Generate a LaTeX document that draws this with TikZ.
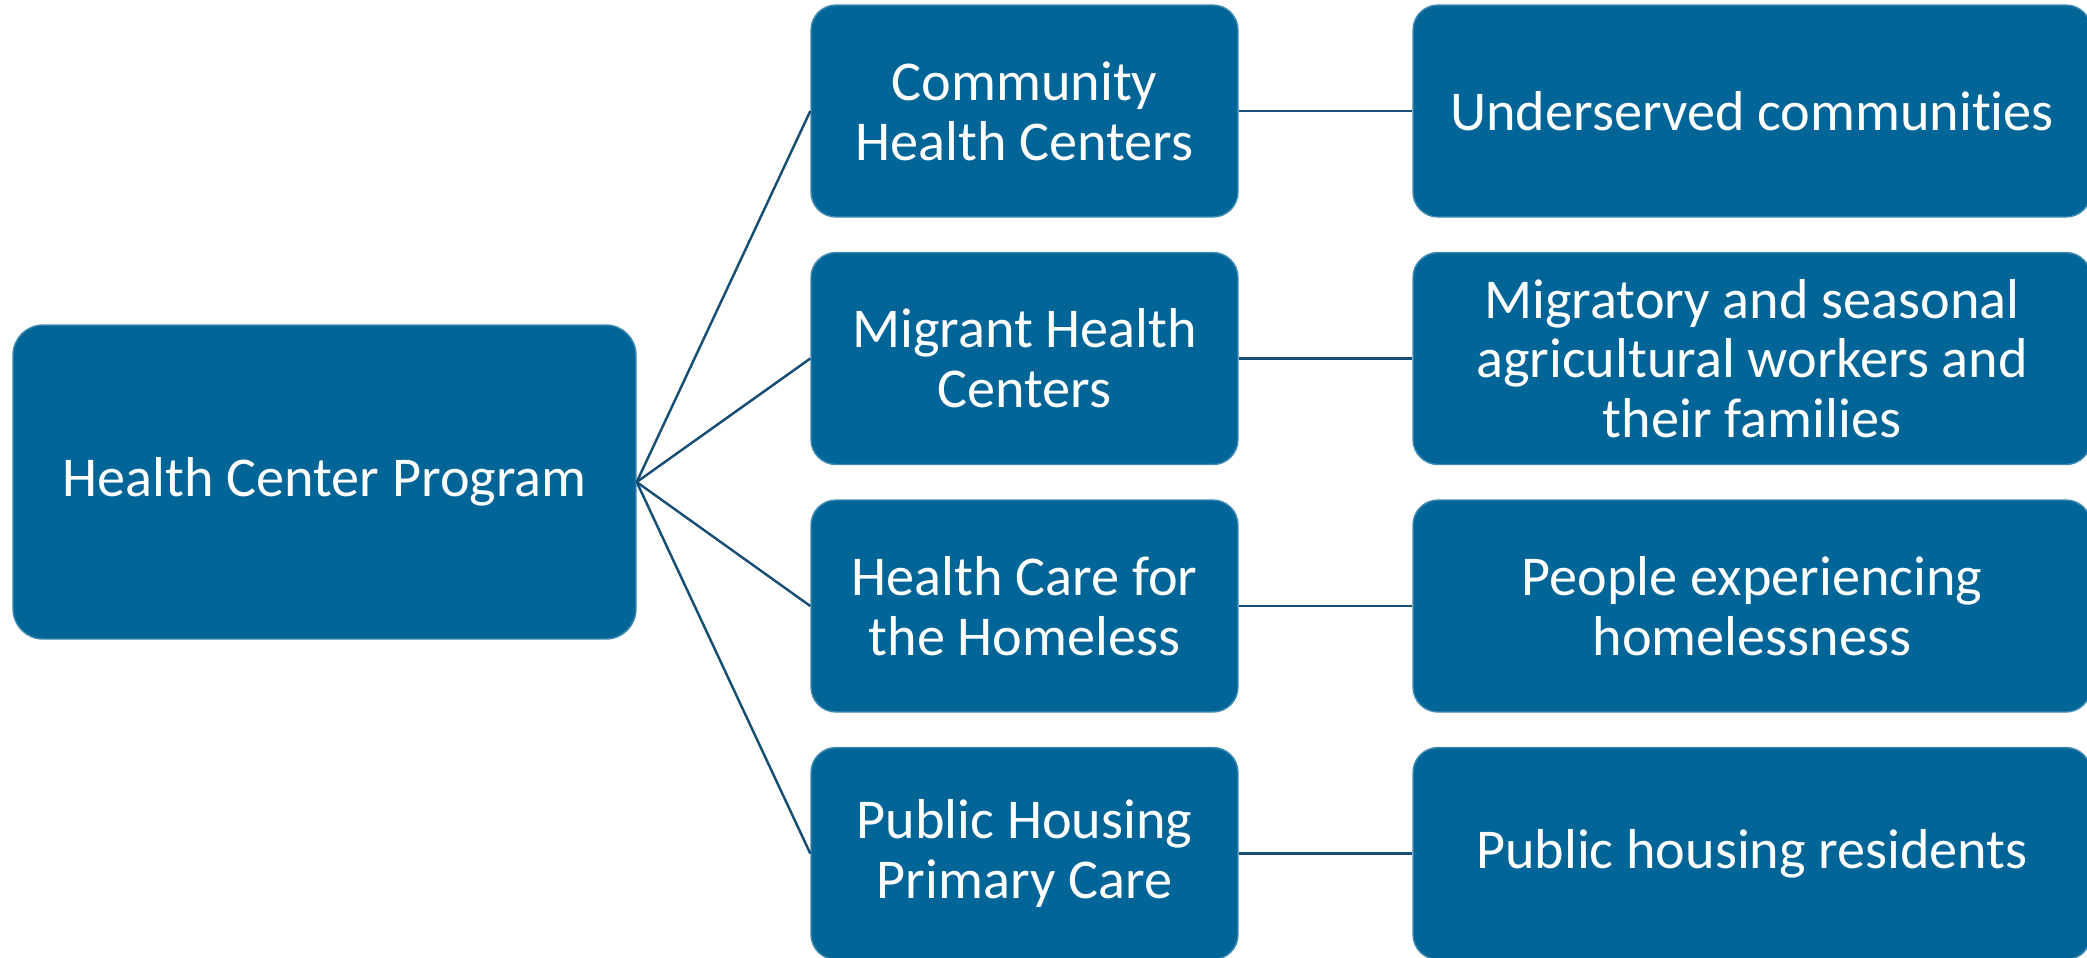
\documentclass[tikz,border=0pt]{standalone}
\usepackage{fontspec}
\setmainfont{Carlito}[Ligatures=NoCommon]
\usetikzlibrary{positioning}

\definecolor{hcblue}{RGB}{1,101,152}
\definecolor{hcline}{RGB}{22,78,118}

\begin{document}
\begin{tikzpicture}[
    box/.style={fill=hcblue,draw=hcblue!75!white,line width=0.4pt,rounded corners=0.25cm,
      text=white,align=center,inner sep=0pt,font=\fontsize{16}{17}\selectfont},
    midbox/.style={box,minimum width=4.27cm,minimum height=2.12cm},
    farbox/.style={box,minimum width=6.78cm,minimum height=2.12cm},
    link/.style={hcline,line width=0.7pt}]
          %frame of the picture
          \useasboundingbox (0,0) rectangle (20.87,-9.57);

          \node[box,rounded corners=0.3cm,minimum width=6.23cm,minimum height=3.14cm](prog) at (3.245,-4.82){Health Center Program};

          %second column
          \node[midbox](chc) at (10.245,-1.11){Community\\Health Centers};
          \node[midbox](mhc) at (10.245,-3.585){Migrant Health\\Centers};
          \node[midbox](hch) at (10.245,-6.06){Health Care for\\the Homeless};
          \node[midbox](phpc) at (10.245,-8.535){Public Housing\\Primary Care};

          %third column
          \node[farbox](under) at (17.52,-1.11){Underserved communities};
          \node[farbox](migr) at (17.52,-3.585){Migratory and seasonal\\agricultural workers and\\their families};
          \node[farbox](homel) at (17.52,-6.06){People experiencing\\homelessness};
          \node[farbox](resid) at (17.52,-8.535){Public housing residents};

          \draw[link] (prog.east) -- (chc.west);
          \draw[link] (prog.east) -- (mhc.west);
          \draw[link] (prog.east) -- (hch.west);
          \draw[link] (prog.east) -- (phpc.west);

          \draw[link] (chc.east) -- (under.west);
          \draw[link] (mhc.east) -- (migr.west);
          \draw[link] (hch.east) -- (homel.west);
          \draw[link] (phpc.east) -- (resid.west);
\end{tikzpicture}
\end{document}
